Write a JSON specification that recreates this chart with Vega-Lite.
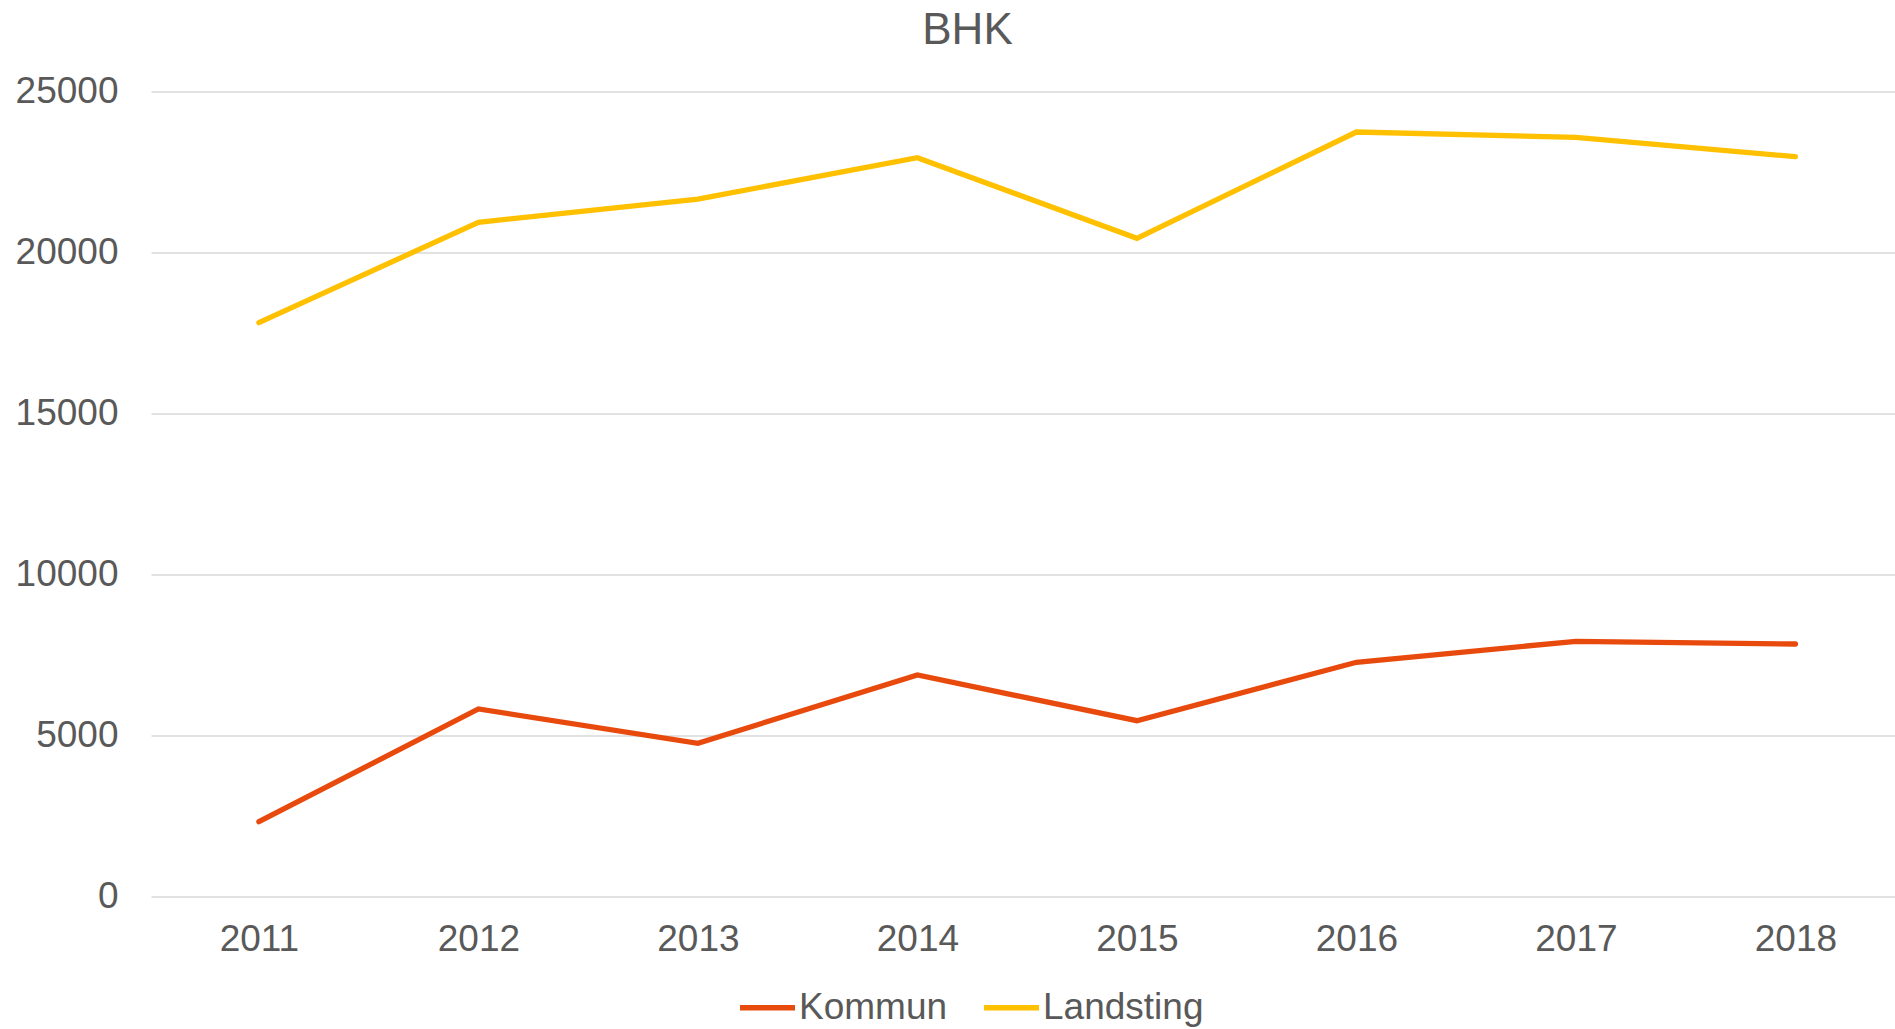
{
  "$schema": "https://vega.github.io/schema/vega-lite/v6.json",
  "width": 1744,
  "height": 805,
  "autosize": {"type": "none"},
  "padding": {"left": 151, "top": 91.5, "right": 0, "bottom": 132.5},
  "background": "white",
  "title": {
    "text": "BHK",
    "fontSize": 44,
    "font": "Liberation Sans",
    "fontWeight": "normal",
    "color": "#595959",
    "anchor": "middle",
    "baseline": "alphabetic",
    "offset": 20,
    "dy": 35,
    "dx": -55.5
  },
  "config": {
    "view": {"stroke": null},
    "font": "Liberation Sans"
  },
  "data": {
    "values": [
      {"year": "2011", "series": "Kommun", "value": 2323},
      {"year": "2012", "series": "Kommun", "value": 5823},
      {"year": "2013", "series": "Kommun", "value": 4758},
      {"year": "2014", "series": "Kommun", "value": 6880},
      {"year": "2015", "series": "Kommun", "value": 5460},
      {"year": "2016", "series": "Kommun", "value": 7273},
      {"year": "2017", "series": "Kommun", "value": 7925},
      {"year": "2018", "series": "Kommun", "value": 7842},
      {"year": "2011", "series": "Landsting", "value": 17820},
      {"year": "2012", "series": "Landsting", "value": 20938},
      {"year": "2013", "series": "Landsting", "value": 21661},
      {"year": "2014", "series": "Landsting", "value": 22944},
      {"year": "2015", "series": "Landsting", "value": 20441},
      {"year": "2016", "series": "Landsting", "value": 23742},
      {"year": "2017", "series": "Landsting", "value": 23578},
      {"year": "2018", "series": "Landsting", "value": 22975}
    ]
  },
  "mark": {"type": "line", "strokeWidth": 5.3, "strokeCap": "round", "strokeJoin": "miter"},
  "encoding": {
    "x": {
      "field": "year",
      "type": "ordinal",
      "scale": {"type": "point", "padding": 0.4727, "align": 0.52},
      "axis": {
        "title": null,
        "labelAngle": 0,
        "labelFontSize": 37,
        "labelColor": "#595959",
        "labelFont": "Liberation Sans",
        "labelBaseline": "alphabetic",
        "labelPadding": 54,
        "ticks": false,
        "tickSize": 0,
        "domain": false,
        "grid": false
      }
    },
    "y": {
      "field": "value",
      "type": "quantitative",
      "scale": {"domain": [0, 25000], "nice": false},
      "axis": {
        "title": null,
        "values": [0, 5000, 10000, 15000, 20000, 25000],
        "format": "d",
        "labelFontSize": 37,
        "labelColor": "#595959",
        "labelFont": "Liberation Sans",
        "labelPadding": 33,
        "ticks": false,
        "tickSize": 0,
        "domain": false,
        "grid": true,
        "gridColor": "#D9D9D9",
        "gridWidth": 1.3
      }
    },
    "color": {
      "field": "series",
      "type": "nominal",
      "scale": {"domain": ["Kommun", "Landsting"], "range": ["#E84A0D", "#FFC000"]},
      "legend": {
        "title": null,
        "orient": "none",
        "direction": "horizontal",
        "legendX": 586,
        "legendY": 885.5,
        "padding": 0,
        "symbolType": "stroke",
        "symbolSize": 3025,
        "symbolStrokeWidth": 5.3,
        "labelFontSize": 37,
        "labelLimit": 400,
        "labelColor": "#595959",
        "labelFont": "Liberation Sans",
        "labelOffset": 1,
        "columnPadding": 25
      }
    }
  }
}
